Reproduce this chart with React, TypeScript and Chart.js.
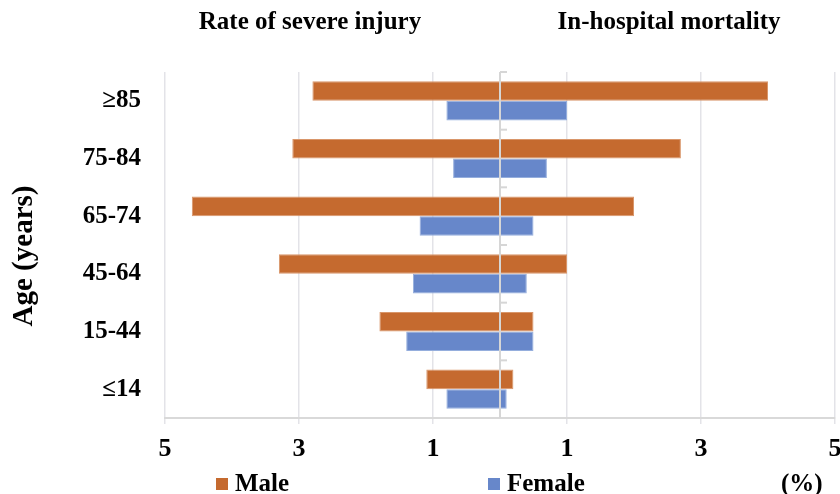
import React, { useEffect, useRef } from "react";
import { Chart, registerables } from "chart.js";

Chart.register(...registerables);

const categories = ["≥85", "75-84", "65-74", "45-64", "15-44", "≤14"];
const maleSevere = [2.8, 3.1, 4.6, 3.3, 1.8, 1.1];
const femaleSevere = [0.8, 0.7, 1.2, 1.3, 1.4, 0.8];
const maleMortality = [4.0, 2.7, 2.0, 1.0, 0.5, 0.2];
const femaleMortality = [1.0, 0.7, 0.5, 0.4, 0.5, 0.1];
const xTickValues = [-5, -3, -1, 1, 3, 5];
const leftTitle = "Rate of severe injury";
const rightTitle = "In-hospital mortality";
const yTitle = "Age (years)";
const unitLabel = "(%)";

const MALE = "#C56A2F";
const FEMALE = "#6787CA";
const MALE_EDGE = "#D9966A";
const FEMALE_EDGE = "#95AEDD";
const FONT = "'Liberation Serif', 'Times New Roman', serif";

const overlayPlugin = {
  id: "overlay",
  afterDatasetsDraw(chart: any) {
    const { ctx, chartArea, scales } = chart;
    const x0 = scales.x.getPixelForValue(0);
    ctx.save();
    ctx.strokeStyle = "#d6d6d6";
    ctx.lineWidth = 2;
    ctx.beginPath();
    ctx.moveTo(x0, chartArea.top);
    ctx.lineTo(x0, chartArea.bottom);
    ctx.stroke();
    const n = categories.length;
    const step = (chartArea.bottom - chartArea.top) / n;
    for (let i = 0; i < n; i++) {
      const y = chartArea.top + i * step;
      ctx.beginPath();
      ctx.moveTo(x0, y);
      ctx.lineTo(x0 + 7, y);
      ctx.stroke();
    }
    ctx.restore();
  },
  afterDraw(chart: any) {
    const { ctx } = chart;
    ctx.save();
    ctx.fillStyle = "#000";
    ctx.textBaseline = "alphabetic";
    ctx.textAlign = "center";
    ctx.font = `bold 25px ${FONT}`;
    ctx.fillText(leftTitle, 310, 29);
    ctx.fillText(rightTitle, 669, 29);

    ctx.save();
    ctx.translate(25, 256);
    ctx.rotate(-Math.PI / 2);
    ctx.font = `bold 29px ${FONT}`;
    ctx.textBaseline = "middle";
    ctx.fillText(yTitle, 0, 0);
    ctx.restore();

    ctx.textAlign = "left";
    ctx.font = `bold 25px ${FONT}`;
    ctx.fillStyle = MALE;
    ctx.fillRect(216, 478, 12, 12);
    ctx.fillStyle = "#000";
    ctx.fillText("Male", 235, 491);
    ctx.fillStyle = FEMALE;
    ctx.fillRect(488, 478, 12, 12);
    ctx.fillStyle = "#000";
    ctx.fillText("Female", 507, 491);
    ctx.fillText(unitLabel, 781, 491);
    ctx.restore();
  },
};

export default function App() {
  const ref = useRef<HTMLCanvasElement>(null);
  useEffect(() => {
    document.body.style.margin = "0";
    const canvas = ref.current;
    if (!canvas) return;
    const bar = (label: string, data: number[], fill: string, edge: string, stack: string) => ({
      label,
      data,
      backgroundColor: fill,
      borderColor: edge,
      borderWidth: 1,
      stack,
    });
    const chart = new Chart(canvas, {
      type: "bar",
      data: {
        labels: categories,
        datasets: [
          bar("Male", maleSevere.map((v) => -v), MALE, MALE_EDGE, "m"),
          bar("Female", femaleSevere.map((v) => -v), FEMALE, FEMALE_EDGE, "f"),
          bar("Male mortality", maleMortality, MALE, MALE_EDGE, "m"),
          bar("Female mortality", femaleMortality, FEMALE, FEMALE_EDGE, "f"),
        ],
      },
      options: {
        indexAxis: "y",
        responsive: false,
        animation: false,
        categoryPercentage: 0.68,
        barPercentage: 1.0,
        layout: { padding: { top: 72, right: 5, bottom: 0, left: 0 } },
        plugins: { legend: { display: false }, tooltip: { enabled: false }, title: { display: false } },
        scales: {
          x: {
            type: "linear",
            min: -5,
            max: 5,
            stacked: true,
            afterBuildTicks: (scale: any) => {
              scale.ticks = xTickValues.map((v) => ({ value: v }));
            },
            afterFit: (scale: any) => {
              scale.height = 76;
              scale.paddingLeft = 0;
              scale.paddingRight = 0;
            },
            ticks: {
              callback: (v: any) => String(Math.abs(Number(v))),
              font: { family: FONT, size: 26, weight: "bold" },
              color: "#000",
              padding: 10,
              maxRotation: 0,
            },
            grid: { color: "#e3e3e8", lineWidth: 1.5, tickLength: 6, drawTicks: true },
            border: { display: true, color: "#d9d9d9", width: 2 },
          },
          y: {
            type: "category",
            stacked: true,
            afterFit: (scale: any) => {
              scale.width = 165;
              scale.paddingTop = 0;
              scale.paddingBottom = 0;
            },
            ticks: {
              font: { family: FONT, size: 25, weight: "bold" },
              color: "#000",
              padding: 24,
            },
            grid: { display: false, drawTicks: false },
            border: { display: false },
          },
        },
      } as any,
      plugins: [overlayPlugin],
    });
    return () => chart.destroy();
  }, []);
  return (
    <div style={{ position: "fixed", left: 0, top: 0, width: 840, height: 494, background: "#fff" }}>
      <canvas ref={ref} width={840} height={494} />
    </div>
  );
}
